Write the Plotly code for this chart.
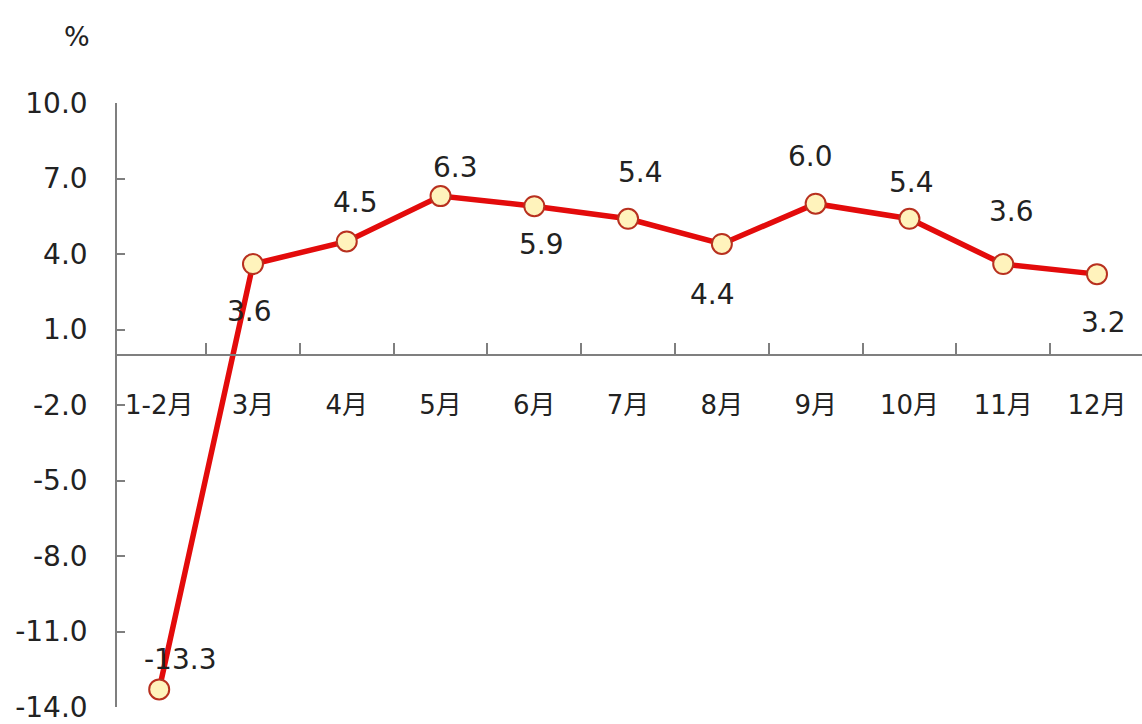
import plotly.graph_objects as go

categories = ["1-2月", "3月", "4月", "5月", "6月", "7月", "8月", "9月", "10月", "11月", "12月"]
values = [-13.3, 3.6, 4.5, 6.3, 5.9, 5.4, 4.4, 6.0, 5.4, 3.6, 3.2]
label_dx = [21, -3, 9, 15, 7, 12, -9, -5, 2, 8, 7]
label_dy = [-30, 47, -39, -29, 38, -46, 51, -47, -36, -53, 48]
y_ticks = [10, 7, 4, 1, -2, -5, -8, -11, -14]

FONT = "DejaVu Sans, Noto Sans CJK SC, sans-serif"
TXT = "#222222"
AXIS = "#7f7f7f"

fig = go.Figure()
fig.add_trace(go.Scatter(
    x=categories, y=values, mode="lines+markers",
    line=dict(color="#E30B0B", width=5.5),
    marker=dict(size=20, color="#FFF3BC", line=dict(color="#B8301F", width=2)),
    hoverinfo="skip", showlegend=False, cliponaxis=False,
))

for c, v, dx, dy in zip(categories, values, label_dx, label_dy):
    fig.add_annotation(x=c, y=v, text=f"{v:.1f}", showarrow=False,
                       xshift=dx, yshift=-dy,
                       font=dict(family=FONT, size=28, color=TXT))

fig.add_annotation(xref="paper", yref="paper", x=-0.039, y=1.0, yshift=84,
                   text="%", showarrow=False, xanchor="center",
                   font=dict(family=FONT, size=27, color=TXT))

fig.update_layout(
    width=1142, height=724,
    margin=dict(l=117, r=0, t=103, b=13),
    plot_bgcolor="white", paper_bgcolor="white",
    xaxis=dict(
        type="category", range=[-0.45, 10.48],
        anchor="free", position=14 / 24,
        showline=True, linecolor=AXIS, linewidth=1.5,
        ticks="inside", ticklen=11, tickcolor=AXIS, tickwidth=1.5,
        tickson="boundaries", showgrid=False, zeroline=False,
        tickfont=dict(family=FONT, size=26, color=TXT),
        ticklabelstandoff=27,
    ),
    yaxis=dict(
        range=[-14, 10], tickvals=y_ticks,
        ticktext=[f"{t:.1f}" for t in y_ticks],
        ticklabeloverflow="allow",
        showline=True, linecolor=AXIS, linewidth=1.5,
        ticks="inside", ticklen=8, tickcolor=AXIS, tickwidth=1.5,
        showgrid=False, zeroline=False,
        tickfont=dict(family=FONT, size=28, color=TXT),
        ticklabelstandoff=22,
    ),
)

fig.write_html("out.html", config={"displayModeBar": False},
               post_script="document.body.style.margin='0';document.body.style.overflow='hidden';")
